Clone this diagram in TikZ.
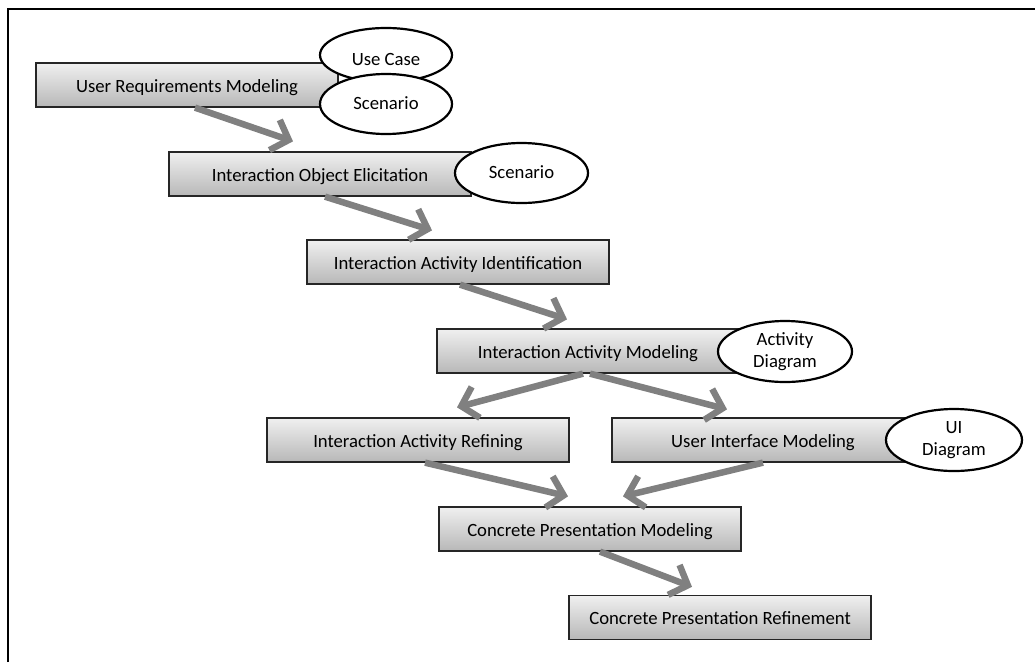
\documentclass[tikz,border=0pt]{standalone}
\usepackage{fontspec}
\setmainfont{Carlito}
\usetikzlibrary{arrows.meta,shapes.geometric,calc}
\begin{document}
\begin{tikzpicture}[x=1pt,y=-1pt,
  stepbox/.style={draw=black!85, line width=1.3pt, top color=black!6, bottom color=black!28,
    minimum width=302pt, minimum height=44pt, inner sep=0pt,
    text height=16pt, text depth=2pt,
    font=\fontsize{18.7}{22}\selectfont},
  note/.style={ellipse, draw=black, line width=2.2pt, fill=white, inner sep=0pt,
    align=center, font=\fontsize{18.7}{22}\selectfont},
  flow/.style={draw=black!50, line width=6.5pt,
    -{Straight Barb[length=15pt,width=32pt]}}
]
\useasboundingbox (0,0) rectangle (1035,662);

% frame: top and left edges only
\draw[line width=2.4pt] (8,662) -- (8,9) -- (1035,9);

% process steps
\node[stepbox] (b1) at (187,85)  {User Requirements Modeling};
\node[stepbox] (b2) at (320,174) {Interaction Object Elicitation};
\node[stepbox] (b3) at (458,262) {Interaction Activity Identification};
\node[stepbox] (b4) at (588,351) {Interaction Activity Modeling};
\node[stepbox] (b5) at (418,440) {Interaction Activity Refining};
\node[stepbox] (b6) at (763,440) {User Interface Modeling};
\node[stepbox] (b7) at (590,529) {Concrete Presentation Modeling};
\node[stepbox] (b8) at (720,617.5) {Concrete Presentation Refinement};

% artefacts attached to the steps
\node[note, minimum width=132pt, minimum height=54pt, text height=20pt, text depth=0pt] (e1) at (386,55)  {Use Case};
\node[note, minimum width=132pt, minimum height=60pt, text height=14pt, text depth=4pt] (e2) at (386,104) {Scenario};
\node[note, minimum width=133pt, minimum height=60pt, text height=14pt, text depth=4pt] (e3) at (521.5,173) {Scenario};
\node[note, minimum width=134pt, minimum height=61pt] (e4) at (785,351.5) {Activity\\Diagram};
\node[note, minimum width=136pt, minimum height=62pt] (e5) at (954,440) {UI\\Diagram};

% flow between steps
\draw[flow] ($(b1.south)+(8,0)$)  -- ($(b2.north)+(-27,-10)$);
\draw[flow] ($(b2.south)+(5,0)$)  -- ($(b3.north)+(-26,-9)$);
\draw[flow] ($(b3.south)+(2,0)$)  -- ($(b4.north)+(-21,-9)$);
\draw[flow] ($(b4.south)+(-5,0)$) -- ($(b5.north)+(39,-10)$);
\draw[flow] ($(b4.south)+(2,0)$)  -- ($(b6.north)+(-36,-8)$);
\draw[flow] ($(b5.south)+(7,0)$)  -- ($(b7.north)+(-22,-10)$);
\draw[flow] ($(b6.south)+(0,0)$)  -- ($(b7.north)+(33,-10)$);
\draw[flow] ($(b7.south)+(10,0)$) -- ($(b8.north)+(-28,-8)$);
\end{tikzpicture}
\end{document}
